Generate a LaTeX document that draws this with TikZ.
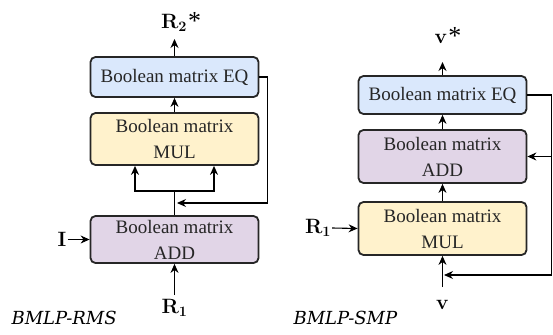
\documentclass[tikz,border=0pt]{standalone}
\usepackage[no-math]{fontspec}
\setmainfont{Liberation Serif}
\newfontfamily\capfont{DejaVu Serif}
\usetikzlibrary{arrows.meta, calc}

\definecolor{eqblue}{HTML}{DAE8FC}
\definecolor{mulyellow}{HTML}{FFF2CC}
\definecolor{addpurple}{HTML}{E1D5E7}

\newcommand{\bigast}{\kern1pt\raisebox{-1pt}{\fontsize{26}{26}\selectfont *}}

\begin{document}
\begin{tikzpicture}[x=1pt, y=-1pt, font=\fontsize{19}{26}\selectfont]
	\def\boxw{168}
	\tikzset{
		opbox/.style={draw=black!85, line width=1.8pt, rounded corners=5pt, minimum width=\boxw pt, align=center, inner sep=0pt, text=black!85},
		flow/.style={line width=1.1pt, -{Stealth[length=9pt, width=8pt]}},
		wire/.style={line width=1.1pt},
		lbl/.style={font=\fontsize{20}{24}\selectfont, inner sep=1pt},
		caption/.style={font=\capfont\itshape\fontsize{18}{22}\selectfont, anchor=west},
	}
	\useasboundingbox (0,0) rectangle (553,334);

	% BMLP-RMS
	\node[opbox, fill=eqblue, minimum height=40pt] (eqL) at (174.5,77) {Boolean matrix EQ};
	\node[opbox, fill=mulyellow, minimum height=52pt] (mulL) at (174.5,139) {Boolean matrix\\MUL};
	\node[opbox, fill=addpurple, minimum height=47pt] (addL) at (174.5,239.5) {Boolean matrix\\ADD};

	\node[lbl] (outL) at (181,22) {$\mathbf{R_2}$\bigast};
	\node[lbl] (inI) at (62,239.5) {$\mathbf{I}$};
	\node[lbl] (inR1) at (174.5,308) {$\mathbf{R_1}$};
	\node[caption] (capL) at (8,318) {BMLP-RMS};

	\coordinate (topL) at (174.5,39);
	\coordinate (splitL) at (174.5,191);
	\coordinate (backL) at (177,203);

	\draw[flow] (eqL.north) -- (topL);
	\draw[flow] (mulL.north) -- (eqL.south);
	\draw[wire] (addL.north) -- (splitL);
	\draw[flow] (splitL) -| ($(mulL.south)+(-39.5,0)$);
	\draw[flow] (splitL) -| ($(mulL.south)+(39.5,0)$);
	\draw[flow] (eqL.east) -- ++(8,0) |- (backL);
	\draw[flow] (inI.east) -- (addL.west);
	\draw[flow] (inR1.north) ++(0,-3) -- (addL.south);

	% BMLP-SMP
	\node[lbl] (outV) at (448,36) {$\mathbf{v}$\bigast};
	\node[opbox, fill=eqblue, minimum height=38pt] (eqR) at (442.5,95) {Boolean matrix EQ};
	\node[opbox, fill=addpurple, minimum height=53pt] (addR) at (442.5,156.5) {Boolean matrix\\ADD};
	\node[opbox, fill=mulyellow, minimum height=53pt] (mulR) at (442.5,228.5) {Boolean matrix\\MUL};

	\node[lbl] (inR1r) at (318,228) {$\mathbf{R_1}$};
	\node[lbl] (inV) at (442.5,305) {$\mathbf{v}$};
	\node[caption] (capR) at (290,318) {BMLP-SMP};

	\coordinate (topR) at (442.5,62);
	\coordinate (edgeR) at (551.5,95);
	\coordinate (bendR) at (551.5,275);
	\coordinate (backR) at (444,275);
	\coordinate (baseR) at (442.5,287);

	\draw[flow] (eqR.north) -- (topR);
	\draw[flow] (addR.north) -- (eqR.south);
	\draw[flow] (mulR.north) -- (addR.south);
	\draw[wire] (eqR.east) -- (edgeR) -- (bendR);
	\draw[flow] (bendR) -- (backR);
	\draw[flow] (edgeR |- addR.east) -- (addR.east);
	\draw[flow] (inR1r.east) -- (mulR.west);
	\draw[flow] (baseR) -- (mulR.south);
\end{tikzpicture}
\end{document}
